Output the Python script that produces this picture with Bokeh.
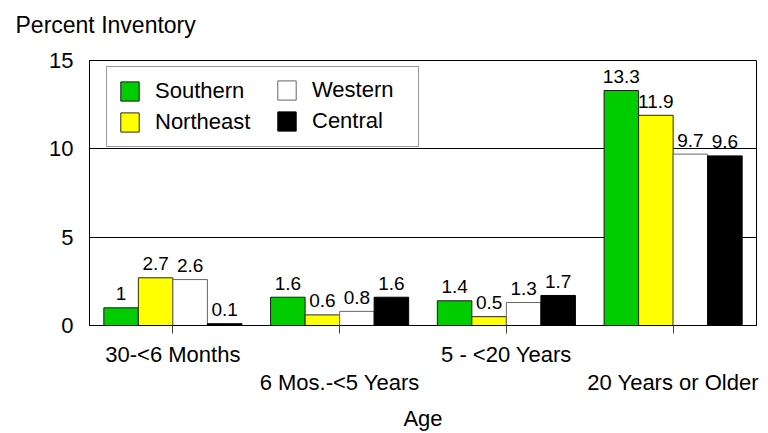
from bokeh.plotting import figure
from bokeh.models import (ColumnDataSource, FactorRange, FixedTicker, CategoricalAxis,
                          Legend, LegendItem)
from bokeh.transform import dodge
from bokeh.core.properties import value
from bokeh.embed import file_html
from bokeh.resources import INLINE

# Age classes and percent of inventory by region
ages = ["30-<6 Months", "6 Mos.-<5 Years", "5 - <20 Years", "20 Years or Older"]
southern = [1.0, 1.6, 1.4, 13.3]
northeast = [2.7, 0.6, 0.5, 11.9]
western = [2.6, 0.8, 1.3, 9.7]
central = [0.1, 1.6, 1.7, 9.6]
y_ticks = [0, 5, 10, 15]

FONT_NAME = "Liberation Sans"
FONT = value(FONT_NAME)

series = [
    ("Southern", southern, "#00CC00", "#1a1a1a"),
    ("Northeast", northeast, "#FFFF00", "#2a2a10"),
    ("Western", western, "#FFFFFF", "#666666"),
    ("Central", central, "#000000", "#000000"),
]

p = figure(
    x_range=FactorRange(factors=ages, range_padding=0),
    y_range=(0, 15),
    width=768, height=433,
    min_border_left=89, min_border_right=12,
    min_border_top=60, min_border_bottom=108,
    output_backend="svg", toolbar_location=None,
    x_axis_location=None,
    title="Percent Inventory",
)

# y-axis caption shown as a left-aligned title over the axis
p.title.text_font = FONT_NAME
p.title.text_font_size = "23px"
p.title.text_font_style = "normal"
p.title.text_color = "black"
p.title.align = "left"
p.title.vertical_align = "top"
p.title.offset = -74
p.title.standoff = 22

p.outline_line_color = "black"
p.outline_line_width = 1
p.background_fill_color = "white"
p.border_fill_color = "white"

# horizontal rules at each y tick
p.xgrid.grid_line_color = None
p.ygrid.ticker = FixedTicker(ticks=y_ticks)
p.ygrid.grid_line_color = "black"
p.ygrid.grid_line_width = 1

# y axis: labels only
p.yaxis.ticker = FixedTicker(ticks=y_ticks)
p.yaxis.major_tick_out = 0
p.yaxis.major_tick_in = 0
p.yaxis.minor_tick_out = 0
p.yaxis.minor_tick_in = 0
p.yaxis.axis_line_color = "black"
p.yaxis.major_label_standoff = 16
p.yaxis.major_label_text_font = FONT_NAME
p.yaxis.major_label_text_font_size = "22px"
p.yaxis.major_label_text_color = "black"

# staggered category labels: alternate classes on two rows,
# blanks are distinct whitespace factors so each range keeps 4 slots
upper_factors = [a if i % 2 == 0 else " " * (i + 1) for i, a in enumerate(ages)]
lower_factors = [a if i % 2 == 1 else " " * (i + 1) for i, a in enumerate(ages)]
blank_factors = [" " * (i + 1) for i in range(len(ages))]
p.extra_x_ranges = {
    "upper": FactorRange(factors=upper_factors, range_padding=0),
    "lower": FactorRange(factors=lower_factors, range_padding=0),
    "blank": FactorRange(factors=blank_factors, range_padding=0),
}

xa = CategoricalAxis(
    x_range_name="upper",
    major_tick_out=8, major_tick_in=0,
    major_tick_line_color="#444444",
    axis_line_color="black",
    major_label_standoff=8,
    major_label_orientation="horizontal",
    major_label_text_font=FONT_NAME,
    major_label_text_font_size="22px",
    major_label_text_color="black",
)
xa2 = CategoricalAxis(
    x_range_name="lower",
    major_tick_out=0, major_tick_in=0,
    axis_line_color=None, major_tick_line_color=None,
    major_label_standoff=0,
    major_label_orientation="horizontal",
    major_label_text_font=FONT_NAME,
    major_label_text_font_size="22px",
    major_label_text_color="black",
    axis_label="Age",
    axis_label_standoff=8,
    axis_label_text_font=FONT_NAME,
    axis_label_text_font_size="22px",
    axis_label_text_font_style="normal",
    axis_label_text_color="black",
)
p.add_layout(xa, "below")
p.add_layout(xa2, "below")

# empty strip between the frame top and the caption
gap_axis = CategoricalAxis(
    x_range_name="blank",
    major_tick_out=6, major_tick_in=0,
    major_tick_line_color=None, axis_line_color=None,
    major_label_standoff=0,
    major_label_text_font_size="1px",
)
p.add_layout(gap_axis, "above")

src = ColumnDataSource(dict(
    age=ages, Southern=southern, Northeast=northeast, Western=western, Central=central,
    **{f"{name}_lbl": [f"{v:g}" for v in vals] for name, vals, _, _ in series},
))

bar_w = 0.207
offsets = [-1.5 * bar_w, -0.5 * bar_w, 0.5 * bar_w, 1.5 * bar_w]
items = {}
for (name, vals, fill, line), off in zip(series, offsets):
    r = p.vbar(x=dodge("age", off, range=p.x_range), top=name, width=bar_w, bottom=0,
               source=src, fill_color=fill, line_color=line, line_width=1)
    items[name] = r
    p.text(x=dodge("age", off, range=p.x_range), y=name, text=f"{name}_lbl", source=src,
           text_align="center", text_baseline="alphabetic", y_offset=-14,
           text_font=FONT, text_font_size="19px", text_color="black")

legend_style = dict(
    label_text_font=FONT_NAME,
    label_text_font_size="22px",
    label_text_color="black",
    glyph_width=23, glyph_height=24,
    label_standoff=14,
    spacing=5,
    padding=11,
    margin=0,
)

# framed legend holding the first column; its label width spans the whole box
legend_a = Legend(
    items=[LegendItem(label=n, renderers=[items[n]]) for n in ["Southern", "Northeast"]],
    location=(17, 178),
    label_width=252,
    border_line_color="#333333",
    border_line_width=1,
    background_fill_color="white",
    background_fill_alpha=1,
    **legend_style,
)
# second column drawn inside the same box
legend_b = Legend(
    items=[LegendItem(label=n, renderers=[items[n]]) for n in ["Western", "Central"]],
    location=(186, 191),
    border_line_color=None,
    background_fill_alpha=0,
    **legend_style,
)
p.add_layout(legend_a, "center")
p.add_layout(legend_b, "center")

open("out.html", "w").write(file_html(p, INLINE))
